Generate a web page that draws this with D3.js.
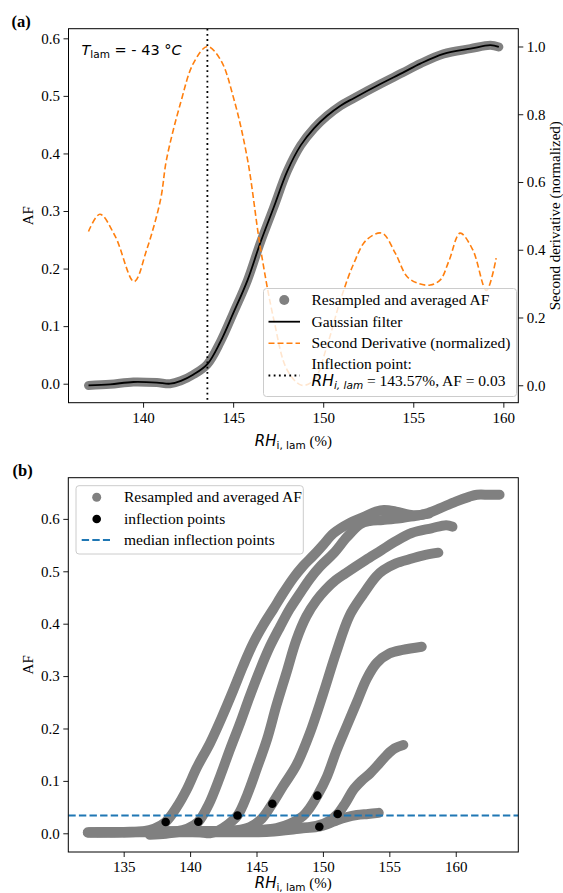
<!DOCTYPE html>
<html>
<head>
<meta charset="utf-8">
<script src="https://cdn.jsdelivr.net/npm/d3@7"></script>
<style>
  body { margin: 0; background: #fff; }
  svg text { font-family: "Liberation Serif", "Times New Roman", serif; fill: #000; white-space: pre; }
  .math { font-family: "DejaVu Sans", sans-serif; }
</style>
</head>
<body>
<svg id="fig" width="563" height="893"></svg>
<script>
// ---- Panel (a): single run at T_lam = -43 °C ----
const afX = [136.97, 138.17, 139.46, 140.76, 141.5, 142.1, 142.8, 143.57, 144.28, 145.0, 145.8, 146.5,
             147.26, 148.0, 148.75, 149.5, 150.2, 150.96, 151.7, 153.2, 154.4, 155.39, 156.68, 158.17, 159.28, 159.75];
const afY = [-0.003, -0.001, 0.003, 0.002, 0.0, 0.005, 0.016, 0.034, 0.072, 0.122, 0.18, 0.244,
             0.307, 0.369, 0.414, 0.444, 0.465, 0.483, 0.496, 0.521, 0.540, 0.556, 0.573, 0.582, 0.588, 0.585];

const d2X = [136.97, 137.6, 138.45, 139.5, 140.2, 140.97, 141.3, 142.08, 142.8, 143.57, 144.3, 145.05, 145.8,
             146.5, 147.26, 148.0, 148.8, 149.5, 150.2, 150.96, 151.7, 152.4, 153.26, 154.0, 154.65, 155.3,
             155.94, 156.5, 157.0, 157.6, 158.3, 159.06, 159.6];
const d2Y = [0.454, 0.505, 0.44, 0.306, 0.40, 0.548, 0.666, 0.833, 0.951, 1.0, 0.961, 0.843, 0.666,
             0.41, 0.193, 0.045, 0.0, 0.016, 0.114, 0.252, 0.36, 0.429, 0.449, 0.39, 0.321, 0.30,
             0.296, 0.311, 0.37, 0.449, 0.40, 0.28, 0.375];

const inflectionRH = 143.57;
const inflectionAF = 0.034;
const tempLabel = "- 43 °";

// ---- Panel (b): all runs ----
const runAx = [132.3, 134, 135.5, 136.5, 137.3, 138.16, 139.0, 139.74, 140.5, 141.5, 142.4, 143.25, 144.0, 144.76,
               145.5, 146.27, 147.0, 147.77, 148.5, 149.28, 150.0, 150.8, 152.0, 153.0, 154.0, 154.6, 155.5,
               156.5, 157.2, 158.0, 158.8, 160.0, 161.0, 161.6, 162.5, 163.3];
const runAy = [0.002, 0.002, 0.003, 0.004, 0.009, 0.0216, 0.05, 0.083, 0.125, 0.172, 0.222, 0.273, 0.32, 0.363,
               0.397, 0.428, 0.458, 0.487, 0.51, 0.53, 0.55, 0.5725, 0.592, 0.603, 0.614, 0.617, 0.614,
               0.608, 0.607, 0.612, 0.620, 0.633, 0.642, 0.646, 0.646, 0.646];

const runBx = [132.5, 135, 137.5, 139.0, 139.8, 140.62, 141.4, 142.25, 143.0, 143.76, 144.5, 145.26, 146.0,
               146.77, 147.5, 148.28, 149.0, 149.78, 150.8, 151.8, 152.8, 153.5, 154.5, 155.8, 157.0, 158.0];
const runBy = [0.002, 0.002, 0.003, 0.004, 0.009, 0.022, 0.055, 0.108, 0.16, 0.21, 0.262, 0.312, 0.356,
               0.394, 0.428, 0.458, 0.485, 0.509, 0.534, 0.565, 0.59, 0.596, 0.598, 0.601, 0.606, 0.610];

const runDx = [133.0, 137, 141, 143.5, 144.5, 145.4, 146.19, 147.0, 148.0, 149.0, 150.0, 151.0, 152.0,
               153.0, 154.0, 154.55, 155.5, 156.5, 157.5, 158.69];
const runDy = [0.002, 0.003, 0.004, 0.006, 0.012, 0.028, 0.0565, 0.09, 0.13, 0.19, 0.265, 0.345, 0.415,
               0.455, 0.49, 0.502, 0.515, 0.523, 0.53, 0.5355];

const runEx = [134, 138, 142, 145, 146.5, 147.5, 148.5, 149.0, 149.58, 150.3, 151.04, 151.8, 152.55,
               153.3, 154.05, 155.0, 156.0, 157.44];
const runEy = [0.002, 0.003, 0.004, 0.006, 0.010, 0.018, 0.033, 0.048, 0.0718, 0.108, 0.159, 0.205, 0.25,
               0.295, 0.325, 0.343, 0.35, 0.356];

const runFx = [135, 140, 145, 147.5, 149.5, 150.5, 151.11, 151.7, 152.29, 152.9, 153.55, 154.2, 154.8, 155.4, 156.05];
const runFy = [0.002, 0.004, 0.006, 0.009, 0.014, 0.024, 0.0368, 0.058, 0.083, 0.1, 0.1145, 0.132, 0.149, 0.162, 0.1685];

const runGx = [132.3, 136, 140, 144, 146.0, 148.5, 149.73, 150.4, 151.06, 151.8, 152.55, 153.4, 154.2];
const runGy = [0.001, 0.002, 0.002, 0.002, 0.003, 0.0095, 0.0126, 0.018, 0.025, 0.031, 0.035, 0.037, 0.039];

const inflX = [138.16, 140.62, 143.57, 146.19, 149.58, 151.11, 149.73];
const inflY = [0.0216, 0.022, 0.034, 0.0565, 0.0718, 0.0368, 0.0126];

const ticksAx = [140, 145, 150, 155, 160];
const ticksAy = [0, 0.1, 0.2, 0.3, 0.4, 0.5, 0.6];
const ticksAy2 = [0, 0.2, 0.4, 0.6, 0.8, 1.0];
const ticksBx = [135, 140, 145, 150, 155, 160];
const ticksBy = [0, 0.1, 0.2, 0.3, 0.4, 0.5, 0.6];

const GRAY = "#808080", ORANGE = "#ff7f0e", BLUE = "#1f77b4";
const FS = 15, LFS = 15.5;

const svg = d3.select("#fig");
const smooth = d3.curveCatmullRom.alpha(0.5);

function frame(g, x0, y0, x1, y1) {
  g.append("rect").attr("x", x0).attr("y", y0).attr("width", x1 - x0).attr("height", y1 - y0)
    .attr("fill", "none").attr("stroke", "#000").attr("stroke-width", 1);
}
function styleAxis(sel) {
  sel.select(".domain").remove();
  sel.selectAll(".tick line").attr("stroke", "#000").attr("stroke-width", 0.9);
  sel.selectAll(".tick text").attr("font-size", FS).attr("fill", "#000")
     .attr("font-family", "Liberation Serif, Times New Roman, serif");
}
function xLabel(g, cx, y) {
  const t = g.append("text").attr("x", cx).attr("y", y).attr("text-anchor", "middle").attr("font-size", FS);
  t.append("tspan").attr("class", "math").attr("font-style", "italic").text("RH");
  t.append("tspan").attr("class", "math").attr("font-size", 10.5).attr("dy", 3).text("i, lam");
  t.append("tspan").attr("dy", -3).text(" (%)");
}
function yLabel(g, x, cy, txt, rot) {
  g.append("text").attr("transform", `translate(${x},${cy}) rotate(${rot})`)
    .attr("text-anchor", "middle").attr("font-size", FS).text(txt);
}

// ================= Panel (a) =================
const A = { l: 68.5, r: 518.3, t: 28.7, b: 402.7 };
const xa = d3.scaleLinear().domain([135.86, 160.83]).range([A.l, A.r]);
const ya = d3.scaleLinear().domain([-0.033, 0.6167]).range([A.b, A.t]);
const ya2 = d3.scaleLinear().domain([-0.0515, 1.0525]).range([A.b, A.t]);

const ga = svg.append("g");
const clipA = svg.append("clipPath").attr("id", "clipA");
clipA.append("rect").attr("x", A.l).attr("y", A.t).attr("width", A.r - A.l).attr("height", A.b - A.t);
const plotA = ga.append("g").attr("clip-path", "url(#clipA)");

const lineA = d3.line().x(d => xa(d[0])).y(d => ya(d[1])).curve(smooth);
const lineA2 = d3.line().x(d => xa(d[0])).y(d => ya2(d[1])).curve(smooth);
const afPts = d3.zip(afX, afY);

plotA.append("path").attr("d", lineA(afPts)).attr("fill", "none").attr("stroke", GRAY)
  .attr("stroke-width", 9).attr("stroke-linecap", "round").attr("stroke-linejoin", "round");
plotA.append("path").attr("d", lineA(afPts)).attr("fill", "none").attr("stroke", "#000").attr("stroke-width", 1.8);
plotA.append("path").attr("d", lineA2(d3.zip(d2X, d2Y))).attr("fill", "none").attr("stroke", ORANGE)
  .attr("stroke-width", 1.6).attr("stroke-dasharray", "6,3");
plotA.append("line").attr("x1", xa(inflectionRH)).attr("x2", xa(inflectionRH)).attr("y1", A.t).attr("y2", A.b)
  .attr("stroke", "#000").attr("stroke-width", 1.8).attr("stroke-dasharray", "1.8,3.4");

ga.append("g").attr("transform", `translate(0,${A.b})`)
  .call(d3.axisBottom(xa).tickValues(ticksAx).tickSize(5).tickPadding(4.3).tickSizeOuter(0)).call(styleAxis);
ga.append("g").attr("transform", `translate(${A.l},0)`)
  .call(d3.axisLeft(ya).tickValues(ticksAy).tickFormat(d3.format(".1f")).tickSize(5).tickPadding(3.5)).call(styleAxis);
ga.append("g").attr("transform", `translate(${A.r},0)`)
  .call(d3.axisRight(ya2).tickValues(ticksAy2).tickFormat(d3.format(".1f")).tickSize(5).tickPadding(3.4)).call(styleAxis);
frame(ga, A.l, A.t, A.r, A.b);

xLabel(ga, (A.l + A.r) / 2, 446);
yLabel(ga, 33, (A.t + A.b) / 2, "AF", -90);
yLabel(ga, 559.5, (A.t + A.b) / 2, "Second derivative (normalized)", -90);

const tt = ga.append("text").attr("class", "math").attr("x", 81.5).attr("y", 55).attr("font-size", 14.5);
tt.append("tspan").attr("font-style", "italic").text("T");
tt.append("tspan").attr("font-size", 10.5).attr("dy", 3).text("lam");
tt.append("tspan").attr("dy", -3).text(" = " + tempLabel);
tt.append("tspan").attr("font-style", "italic").text("C");

ga.append("text").attr("x", 11.5).attr("y", 26.5).attr("font-size", 16.5).attr("font-weight", "bold").text("(a)");

// legend (a)
const legA = ga.append("g");
legA.append("rect").attr("x", 263.5).attr("y", 288.5).attr("width", 253).attr("height", 108).attr("rx", 3)
  .attr("fill", "#fff").attr("fill-opacity", 0.8).attr("stroke", "#cccccc").attr("stroke-width", 1);
const lx0 = 268.5, lx1 = 300, ltx = 311.5;
legA.append("circle").attr("cx", (lx0 + lx1) / 2).attr("cy", 300).attr("r", 5).attr("fill", GRAY);
legA.append("text").attr("x", ltx).attr("y", 305).attr("font-size", LFS).text("Resampled and averaged AF");
legA.append("line").attr("x1", lx0).attr("x2", lx1).attr("y1", 321.7).attr("y2", 321.7).attr("stroke", "#000").attr("stroke-width", 1.8);
legA.append("text").attr("x", ltx).attr("y", 326.5).attr("font-size", LFS).text("Gaussian filter");
legA.append("line").attr("x1", lx0).attr("x2", lx1).attr("y1", 343.3).attr("y2", 343.3).attr("stroke", ORANGE)
  .attr("stroke-width", 1.6).attr("stroke-dasharray", "6,3");
legA.append("text").attr("x", ltx).attr("y", 348).attr("font-size", LFS).text("Second Derivative (normalized)");
legA.append("line").attr("x1", lx0).attr("x2", lx1).attr("y1", 375.5).attr("y2", 375.5).attr("stroke", "#000")
  .attr("stroke-width", 1.8).attr("stroke-dasharray", "1.8,3.4");
legA.append("text").attr("x", ltx).attr("y", 369).attr("font-size", LFS).text("Inflection point:");
const ip = legA.append("text").attr("x", ltx).attr("y", 386).attr("font-size", LFS);
ip.append("tspan").attr("class", "math").attr("font-style", "italic").text("RH");
ip.append("tspan").attr("class", "math").attr("font-style", "italic").attr("font-size", 10.5).attr("dy", 3).text("i, lam");
ip.append("tspan").attr("dy", -3).text(` = ${inflectionRH.toFixed(2)}%, AF = ${inflectionAF.toFixed(2)}`);

// ================= Panel (b) =================
const B = { l: 68.3, r: 518.3, t: 477.7, b: 852 };
const xb = d3.scaleLinear().domain([130.83, 164.71]).range([B.l, B.r]);
const yb = d3.scaleLinear().domain([-0.0357, 0.6786]).range([B.b, B.t]);

const gb = svg.append("g");
const clipB = svg.append("clipPath").attr("id", "clipB");
clipB.append("rect").attr("x", B.l).attr("y", B.t).attr("width", B.r - B.l).attr("height", B.b - B.t);
const plotB = gb.append("g").attr("clip-path", "url(#clipB)");

const lineB = d3.line().x(d => xb(d[0])).y(d => yb(d[1])).curve(smooth);
const runs = [
  d3.zip(runGx, runGy), d3.zip(runFx, runFy), d3.zip(runEx, runEy), d3.zip(runDx, runDy),
  d3.zip(afX, afY), d3.zip(runBx, runBy), d3.zip(runAx, runAy)
];
plotB.selectAll("path.run").data(runs).join("path").attr("class", "run")
  .attr("d", lineB).attr("fill", "none").attr("stroke", GRAY).attr("stroke-width", 10)
  .attr("stroke-linecap", "round").attr("stroke-linejoin", "round");

const medianAF = d3.median(inflY);
plotB.append("line").attr("x1", B.l).attr("x2", B.r).attr("y1", yb(medianAF)).attr("y2", yb(medianAF))
  .attr("stroke", BLUE).attr("stroke-width", 2).attr("stroke-dasharray", "7.4,3.2");
plotB.selectAll("circle.infl").data(d3.zip(inflX, inflY)).join("circle").attr("class", "infl")
  .attr("cx", d => xb(d[0])).attr("cy", d => yb(d[1])).attr("r", 4.3).attr("fill", "#000");

gb.append("g").attr("transform", `translate(0,${B.b})`)
  .call(d3.axisBottom(xb).tickValues(ticksBx).tickSize(5).tickPadding(4.3).tickSizeOuter(0)).call(styleAxis);
gb.append("g").attr("transform", `translate(${B.l},0)`)
  .call(d3.axisLeft(yb).tickValues(ticksBy).tickFormat(d3.format(".1f")).tickSize(5).tickPadding(3.5)).call(styleAxis);
frame(gb, B.l, B.t, B.r, B.b);

xLabel(gb, (B.l + B.r) / 2, 887.5);
yLabel(gb, 33, (B.t + B.b) / 2, "AF", -90);
gb.append("text").attr("x", 12.5).attr("y", 475.5).attr("font-size", 16.5).attr("font-weight", "bold").text("(b)");

// legend (b)
const legB = gb.append("g");
legB.append("rect").attr("x", 76).attr("y", 485.7).attr("width", 227.3).attr("height", 68.3).attr("rx", 3)
  .attr("fill", "#fff").attr("fill-opacity", 0.8).attr("stroke", "#cccccc").attr("stroke-width", 1);
legB.append("circle").attr("cx", 96.7).attr("cy", 497.3).attr("r", 4.5).attr("fill", GRAY);
legB.append("text").attr("x", 124).attr("y", 502).attr("font-size", LFS).text("Resampled and averaged AF");
legB.append("circle").attr("cx", 96.7).attr("cy", 519).attr("r", 4.3).attr("fill", "#000");
legB.append("text").attr("x", 124).attr("y", 523.5).attr("font-size", LFS).text("inflection points");
legB.append("line").attr("x1", 81.7).attr("x2", 110).attr("y1", 540).attr("y2", 540).attr("stroke", BLUE)
  .attr("stroke-width", 2).attr("stroke-dasharray", "7.4,3.2");
legB.append("text").attr("x", 124).attr("y", 545).attr("font-size", LFS).text("median inflection points");
</script>
</body>
</html>
